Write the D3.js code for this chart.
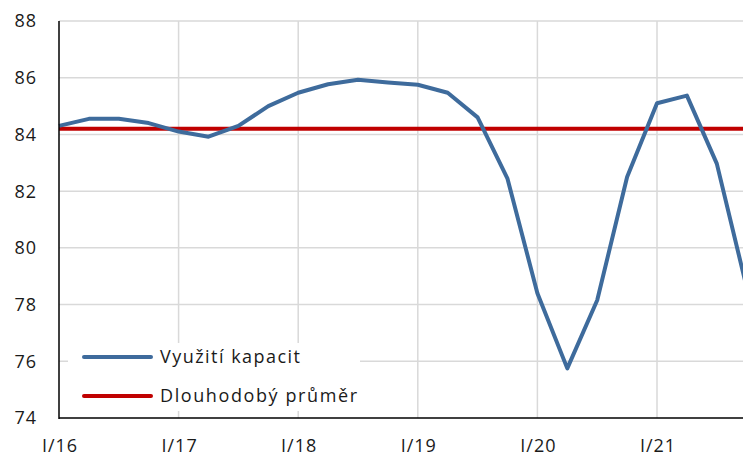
<!DOCTYPE html>
<html>
<head>
<meta charset="utf-8">
<script src="https://cdn.jsdelivr.net/npm/d3@7"></script>
<style>
  body { margin: 0; background: #fff; }
  text { font-family: "Open Sans", "Noto Sans", sans-serif; fill: #1a1a1a; }
</style>
</head>
<body>
<script>
// chart data (quarters I/16 .. IV/21)
var quarters = ["I/16", "II/16", "III/16", "IV/16",
                "I/17", "II/17", "III/17", "IV/17",
                "I/18", "II/18", "III/18", "IV/18",
                "I/19", "II/19", "III/19", "IV/19",
                "I/20", "II/20", "III/20", "IV/20",
                "I/21", "II/21", "III/21", "IV/21"];
var capacity = [84.3, 84.55, 84.55, 84.4,
                84.1, 83.92, 84.3, 85.0,
                85.47, 85.77, 85.93, 85.83,
                85.75, 85.47, 84.6, 82.44,
                78.4, 75.75, 78.15, 82.5,
                85.1, 85.37, 82.97, 78.6];
var longTermAvg = 84.2;
var yTicks = [74, 76, 78, 80, 82, 84, 86, 88];
var yearLabels = ["I/16", "I/17", "I/18", "I/19", "I/20", "I/21"];

var svgWidth = 743;
var svgHeight = 461;

var svg = d3.select("body")
  .append("svg")
  .attr("width", svgWidth)
  .attr("height", svgHeight);

// index of quarter -> pixel
var x = d3.scaleLinear()
  .domain([0, 20])
  .range([59, 657]);

var y = d3.scaleLinear()
  .domain([74, 88])
  .range([418, 21]);

var plotRight = svgWidth + 10;

// horizontal grid
svg.append("g")
  .selectAll("line")
  .data(yTicks.filter(d => d > 74))
  .enter()
  .append("line")
  .attr("x1", x(0))
  .attr("x2", plotRight)
  .attr("y1", d => y(d))
  .attr("y2", d => y(d))
  .attr("stroke", "#d9d9d9")
  .attr("stroke-width", 1.5);

// vertical grid at each year start
svg.append("g")
  .selectAll("line")
  .data(yearLabels.slice(1))
  .enter()
  .append("line")
  .attr("x1", d => x(quarters.indexOf(d)))
  .attr("x2", d => x(quarters.indexOf(d)))
  .attr("y1", y(88))
  .attr("y2", y(74))
  .attr("stroke", "#d9d9d9")
  .attr("stroke-width", 1.5);

// y labels
svg.append("g")
  .selectAll("text")
  .data(yTicks)
  .enter()
  .append("text")
  .attr("x", 37)
  .attr("y", d => y(d))
  .attr("dy", "0.36em")
  .attr("text-anchor", "end")
  .style("font-size", "18px")
  .style("letter-spacing", "1px")
  .text(d => d);

// x labels
svg.append("g")
  .selectAll("text")
  .data(yearLabels)
  .enter()
  .append("text")
  .attr("x", d => x(quarters.indexOf(d)) + 1)
  .attr("y", 452)
  .attr("text-anchor", "middle")
  .style("font-size", "18px")
  .style("letter-spacing", "1px")
  .text(d => d);

// long-term average
svg.append("line")
  .attr("x1", x(0))
  .attr("x2", plotRight)
  .attr("y1", y(longTermAvg))
  .attr("y2", y(longTermAvg))
  .attr("stroke", "#c00000")
  .attr("stroke-width", 4);

// capacity utilisation
var line = d3.line()
  .x((d, i) => x(i))
  .y(d => y(d));

svg.append("path")
  .datum(capacity)
  .attr("d", line)
  .attr("fill", "none")
  .attr("stroke", "#3e6b9c")
  .attr("stroke-width", 4)
  .attr("stroke-linejoin", "round");

// axes lines
svg.append("line")
  .attr("x1", x(0)).attr("x2", x(0))
  .attr("y1", y(88)).attr("y2", y(74) + 1)
  .attr("stroke", "#000").attr("stroke-width", 1.5);
svg.append("line")
  .attr("x1", x(0)).attr("x2", plotRight)
  .attr("y1", y(74)).attr("y2", y(74))
  .attr("stroke", "#000").attr("stroke-width", 1.5);

// legend
var legend = svg.append("g");
legend.append("rect")
  .attr("x", 68).attr("y", 343)
  .attr("width", 292).attr("height", 68)
  .attr("fill", "#fff");

var legendItems = [
  { label: "Využití kapacit", color: "#3e6b9c", len: 140 },
  { label: "Dlouhodobý průměr", color: "#c00000", len: 197 }
];

legendItems.forEach(function(d, i) {
  var ly = 357 + i * 39;
  legend.append("line")
    .attr("x1", 84).attr("x2", 151)
    .attr("y1", ly).attr("y2", ly)
    .attr("stroke", d.color)
    .attr("stroke-width", 4)
    .attr("stroke-linecap", "round");
  legend.append("text")
    .attr("x", 160)
    .attr("y", ly)
    .attr("dy", "0.36em")
    .attr("textLength", d.len)
    .attr("lengthAdjust", "spacing")
    .style("font-size", "18px")
    .text(d.label);
});
</script>
</body>
</html>
